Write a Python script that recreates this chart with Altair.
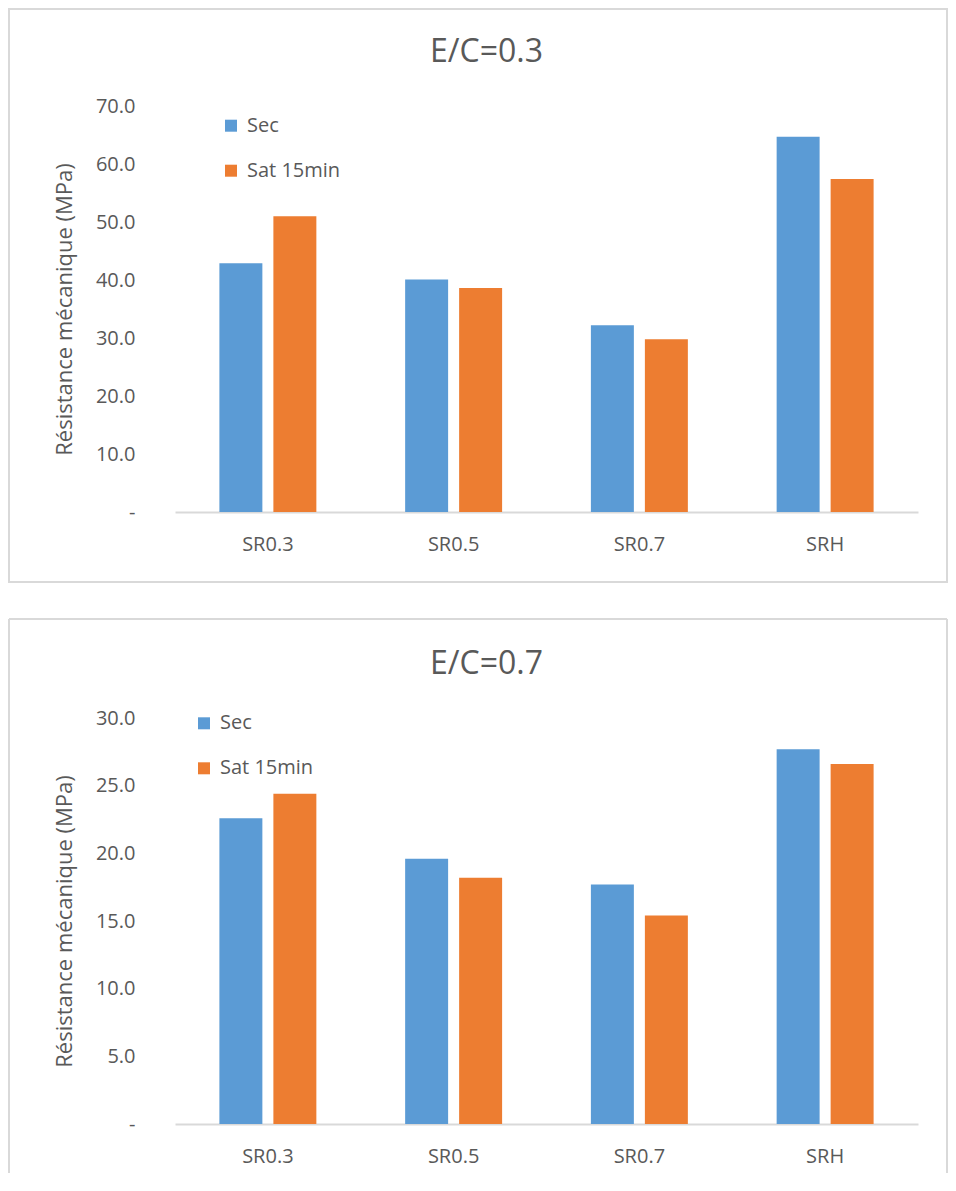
import altair as alt
import pandas as pd

categories = ["SR0.3", "SR0.5", "SR0.7", "SRH"]
series = ["Sec", "Sat 15min"]

top_sec = [42.9, 40.1, 32.2, 64.7]
top_sat = [51.0, 38.6, 29.8, 57.4]
bot_sec = [22.6, 19.6, 17.7, 27.7]
bot_sat = [24.4, 18.2, 15.4, 26.6]

top_ticks = [0, 10, 20, 30, 40, 50, 60, 70]
bot_ticks = [0, 5, 10, 15, 20, 25, 30]

colors = ["#5B9BD5", "#ED7D31"]
GRAY = "#595959"
BORDER = "#d9d9d9"
FONT = "Open Sans"
W, H = 743, 406


def make_df(sec, sat):
    rows = []
    for c, a, b in zip(categories, sec, sat):
        rows.append({"cat": c, "series": series[0], "value": a})
        rows.append({"cat": c, "series": series[1], "value": b})
    return pd.DataFrame(rows)


def panel(sec, sat, ymax, ticks, title, legend_x, legend_y, full_border):
    df = make_df(sec, sat)
    bars = alt.Chart(df).mark_bar().encode(
        x=alt.X(
            "cat:N",
            sort=categories,
            scale=alt.Scale(paddingInner=0.478, paddingOuter=0.239),
            axis=alt.Axis(
                title=None, labelAngle=0, ticks=False, tickSize=0,
                domainColor=BORDER, domainWidth=2, grid=False,
                labelFontSize=20, labelColor=GRAY, labelFont=FONT,
                labelPadding=22,
            ),
        ),
        xOffset=alt.XOffset(
            "series:N", sort=series,
            scale=alt.Scale(paddingInner=0.204, paddingOuter=0),
        ),
        y=alt.Y(
            "value:Q",
            scale=alt.Scale(domain=[0, ymax], nice=False),
            axis=alt.Axis(
                values=ticks,
                labelExpr="datum.value == 0 ? '-\u00a0\u00a0' : format(datum.value, '.1f')",
                title="Résistance mécanique (MPa)",
                domain=False, ticks=False, tickSize=0, grid=False,
                labelFontSize=20, labelColor=GRAY, labelFont=FONT,
                labelPadding=40,
                titleFontSize=22, titleColor=GRAY, titleFont=FONT,
                titleFontWeight="normal", titlePadding=19,
            ),
        ),
        color=alt.Color(
            "series:N",
            sort=series,
            scale=alt.Scale(domain=series, range=colors),
            legend=alt.Legend(
                orient="none", legendX=legend_x, legendY=legend_y,
                title=None, symbolType="square", symbolSize=144,
                symbolStrokeWidth=0, labelFontSize=20, labelColor=GRAY,
                labelFont=FONT, rowPadding=25, labelOffset=6,
            ),
        ),
    )

    one = pd.DataFrame({"d": [0]})
    ttl = alt.Chart(one).mark_text(
        text=title, fontSize=32, font=FONT, color=GRAY,
        align="center", baseline="middle",
    ).encode(x=alt.value(311.5), y=alt.value(-54))

    layers = [bars, ttl]
    if full_border:
        border = alt.Chart(one).mark_rect(
            fillOpacity=0, stroke=BORDER, strokeWidth=2
        ).encode(
            x=alt.value(-166), x2=alt.value(772),
            y=alt.value(-97), y2=alt.value(476),
        )
        layers.append(border)
    else:
        top_line = alt.Chart(one).mark_rule(color=BORDER, strokeWidth=2).encode(
            x=alt.value(-166), x2=alt.value(772), y=alt.value(-99)
        )
        left_line = alt.Chart(one).mark_rule(color=BORDER, strokeWidth=2).encode(
            x=alt.value(-166), y=alt.value(-99), y2=alt.value(455)
        )
        right_line = alt.Chart(one).mark_rule(color=BORDER, strokeWidth=2).encode(
            x=alt.value(772), y=alt.value(-99), y2=alt.value(455)
        )
        layers += [top_line, left_line, right_line]

    return alt.layer(*layers).properties(width=W, height=H)


top = panel(top_sec, top_sat, 70, top_ticks, "E/C=0.3", 46, 9.7, True)
bottom = panel(bot_sec, bot_sat, 30, bot_ticks, "E/C=0.7", 19, -4.7, False)

chart = (
    alt.vconcat(top, bottom, spacing=35)
    .resolve_scale(x="independent", y="independent", color="independent")
    .resolve_legend(color="independent")
    .properties(padding=0)
    .configure_view(strokeWidth=0)
)

chart.save("out.html", embed_options={"renderer": "svg", "actions": False})
